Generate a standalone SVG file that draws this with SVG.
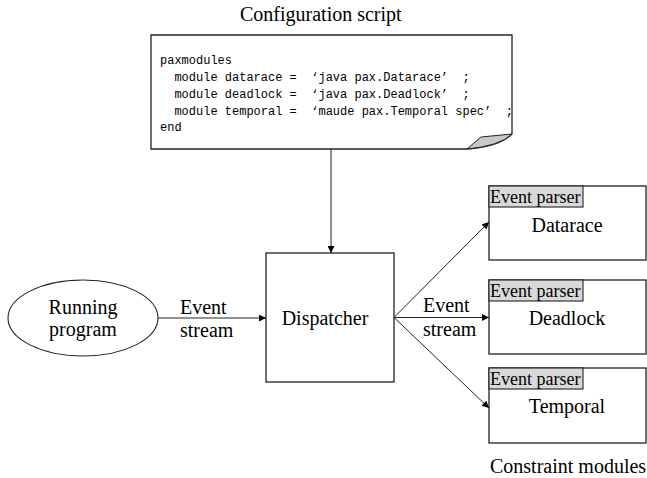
<svg xmlns="http://www.w3.org/2000/svg" width="647" height="478" viewBox="0 0 647 478">
<style>
.serif{font-family:"Liberation Serif","Times New Roman",serif;fill:#000}
.t20{font-size:20px}
.t18{font-size:18px}
.code{font-family:"Liberation Mono","Courier New",monospace;font-size:12px;fill:#000;white-space:pre}
.box{fill:#fff;stroke:#222;stroke-width:1.3}
.hdr{fill:#d9d9d9;stroke:#222;stroke-width:1.1}
.conn{stroke:#222;stroke-width:1;fill:none;marker-end:url(#ah)}
</style>
<defs>
<marker id="ah" viewBox="0 0 10 10" refX="10" refY="5" markerWidth="8" markerHeight="7" markerUnits="userSpaceOnUse" orient="auto">
<path d="M0,0 L10,5 L0,10 Z" fill="#000"/>
</marker>
</defs>
<rect width="647" height="478" fill="#fff"/>

<g id="config">
<text class="serif t20" x="240" y="21">Configuration script</text>
<path class="box" d="M151,35 H512 V134 Q500,146 467,149 H151 Z"/>
<path d="M467,149 L481,137 L512,134 Q500,146 467,149 Z" fill="#c8c8c8" stroke="#222" stroke-width="1"/>
<text class="code" xml:space="preserve" x="160" y="64">paxmodules</text>
<text class="code" xml:space="preserve" x="160" y="81">  module datarace =  ‘java pax.Datarace’  ;</text>
<text class="code" xml:space="preserve" x="160" y="98">  module deadlock =  ‘java pax.Deadlock’  ;</text>
<text class="code" xml:space="preserve" x="160" y="114.5">  module temporal =  ‘maude pax.Temporal spec’  ;</text>
<text class="code" xml:space="preserve" x="160" y="131">end</text>
</g>

<g id="running">
<ellipse cx="83" cy="318" rx="75" ry="38" fill="#fff" stroke="#222" stroke-width="1.1"/>
<text class="serif t20" x="83" y="314" text-anchor="middle">Running</text>
<text class="serif t20" x="83" y="336" text-anchor="middle">program</text>
</g>

<g id="dispatcher">
<rect class="box" x="266" y="253" width="128" height="129"/>
<text class="serif t20" x="325" y="325" text-anchor="middle">Dispatcher</text>
</g>

<g id="datarace">
<rect class="box" x="489" y="186" width="157" height="74"/>
<rect class="hdr" x="489" y="186" width="94" height="21"/>
<text class="serif t18" x="490" y="203">Event parser</text>
<text class="serif t20" x="567" y="232" text-anchor="middle">Datarace</text>
</g>

<g id="deadlock">
<rect class="box" x="489" y="280" width="157" height="74"/>
<rect class="hdr" x="489" y="280" width="94" height="21"/>
<text class="serif t18" x="490" y="297">Event parser</text>
<text class="serif t20" x="567" y="325" text-anchor="middle">Deadlock</text>
</g>

<g id="temporal">
<rect class="box" x="489" y="368" width="157" height="75"/>
<rect class="hdr" x="489" y="368" width="94" height="21"/>
<text class="serif t18" x="490" y="385">Event parser</text>
<text class="serif t20" x="567" y="413" text-anchor="middle">Temporal</text>
</g>

<g id="labels">
<text class="serif t20" x="180" y="314">Event</text>
<text class="serif t20" x="180" y="337">stream</text>
<text class="serif t20" x="423" y="312">Event</text>
<text class="serif t20" x="423" y="336">stream</text>
<text class="serif t20" x="490" y="473">Constraint modules</text>
</g>

<g id="connectors">
<line class="conn" x1="331" y1="149" x2="331" y2="253"/>
<line class="conn" x1="158" y1="318" x2="266" y2="318"/>
<line class="conn" x1="394" y1="317.5" x2="489" y2="222"/>
<line class="conn" x1="394" y1="317.5" x2="489" y2="317.5"/>
<line class="conn" x1="394" y1="317.5" x2="489" y2="408"/>
</g>
</svg>
